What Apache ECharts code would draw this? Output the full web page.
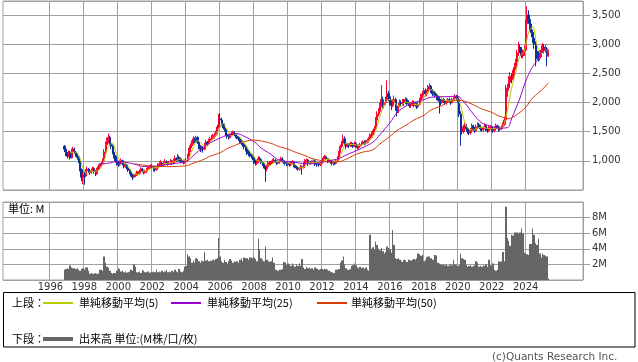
<!DOCTYPE html>
<html><head><meta charset="utf-8">
<script src="https://cdn.jsdelivr.net/npm/echarts@6/dist/echarts.min.js"></script>
<style>html,body{margin:0;padding:0;background:#fff}#c{width:638px;height:362px}</style>
</head><body><div id="c"></div><script>
// axis range (months) and first data month
const axisStart = [1993, 4];
const axisMonths = 410;
const dataStart = '1996-11';
const yearTicks = ['1996','1998','2000','2002','2004','2006','2008','2010','2012','2014','2016','2018','2020','2022','2024'];

// monthly candles [open, close, low, high]
const candles = [
 // 1996 Nov-Dec
 [1250,1200,1150,1270],[1200,1120,1080,1230],
 // 1997
 [1120,1080,1040,1150],[1080,1150,1060,1180],[1150,1050,1020,1170],[1050,1180,1040,1210],[1180,1200,1150,1240],[1200,1150,1120,1230],
 [1150,1100,1070,1170],[1100,1060,1020,1130],[1060,1000,960,1080],[1000,850,820,1020],[850,720,650,870],[720,760,600,800],
 // 1998
 [760,740,590,810],[740,830,720,860],[830,860,800,900],[860,820,790,880],[820,800,760,840],[800,830,780,870],
 [830,870,810,900],[870,820,780,890],[820,780,740,840],[780,850,760,880],[850,900,830,930],[900,920,870,960],
 // 1999
 [920,950,890,980],[950,1000,930,1040],[1000,1150,980,1200],[1150,1280,1120,1330],[1280,1350,1240,1400],[1350,1400,1300,1470],
 [1400,1300,1260,1430],[1300,1250,1200,1340],[1250,1150,1110,1280],[1150,1080,1040,1180],[1080,1000,970,1100],[1000,960,920,1030],
 // 2000
 [960,940,900,1000],[940,980,910,1010],[980,1000,950,1040],[1000,950,920,1020],[950,900,870,970],[900,930,880,960],
 [930,880,850,950],[880,840,810,900],[840,800,770,860],[800,760,730,820],[760,720,670,780],[720,740,700,770],
 // 2001
 [740,760,720,790],[760,800,740,830],[800,780,750,820],[780,820,760,850],[820,860,800,890],[860,830,800,880],
 [830,800,770,850],[800,820,780,850],[820,850,790,880],[850,870,830,900],[870,890,850,920],[890,910,860,940],
 // 2002
 [910,890,860,940],[890,860,820,910],[860,850,810,890],[850,880,830,910],[880,920,860,960],[920,950,900,990],
 [950,960,920,1010],[960,930,900,980],[930,950,910,990],[950,980,930,1030],[980,960,930,1010],[960,950,920,990],
 // 2003
 [950,970,930,1000],[970,990,950,1030],[990,960,930,1010],[960,1000,940,1040],[1000,1040,980,1090],[1040,1010,980,1060],
 [1010,1060,990,1120],[1060,1040,1000,1090],[1040,990,960,1060],[990,1000,960,1040],[1000,970,940,1020],[970,990,950,1020],
 // 2004
 [990,1010,960,1050],[1010,1080,990,1120],[1080,1180,1060,1220],[1180,1260,1150,1300],[1260,1300,1220,1350],[1300,1380,1280,1420],
 [1380,1340,1300,1400],[1340,1400,1310,1430],[1400,1320,1290,1420],[1320,1250,1200,1340],[1250,1200,1150,1270],[1200,1220,1170,1260],
 // 2005
 [1220,1200,1140,1250],[1200,1280,1180,1310],[1280,1320,1250,1360],[1320,1290,1250,1340],[1290,1350,1270,1380],[1350,1380,1320,1410],
 [1380,1400,1350,1440],[1400,1420,1370,1460],[1420,1440,1380,1480],[1440,1480,1410,1520],[1480,1580,1450,1620],[1580,1720,1550,1800],
 // 2006
 [1720,1700,1620,1820],[1700,1640,1600,1740],[1640,1600,1560,1680],[1600,1540,1500,1640],[1540,1460,1420,1560],[1460,1420,1380,1480],
 [1420,1400,1370,1450],[1400,1440,1380,1470],[1440,1470,1420,1500],[1470,1490,1440,1520],[1490,1450,1420,1510],[1450,1420,1390,1470],
 // 2007
 [1420,1400,1370,1450],[1400,1380,1340,1420],[1380,1350,1300,1400],[1350,1300,1270,1370],[1300,1280,1240,1320],[1280,1240,1200,1300],
 [1240,1200,1160,1270],[1200,1150,1100,1220],[1150,1120,1080,1180],[1120,1100,1060,1160],[1100,1080,1040,1130],[1080,1050,1010,1100],
 // 2008
 [1050,1000,950,1070],[1000,960,920,1020],[960,980,930,1010],[980,1040,960,1080],[1040,1020,990,1070],[1020,970,940,1040],
 [970,950,910,990],[950,900,870,970],[900,860,640,920],[860,900,820,930],[900,970,880,1000],[970,950,920,990],
 // 2009
 [950,980,920,1000],[980,1000,950,1030],[1000,1010,960,1050],[1010,990,960,1030],[990,960,930,1010],[960,980,940,1010],
 [980,1000,950,1030],[1000,1040,980,1070],[1040,1000,970,1060],[1000,980,950,1020],[980,960,920,1000],[960,950,910,980],
 // 2010
 [940,950,910,980],[950,930,900,970],[930,960,910,990],[960,980,940,1010],[980,920,890,990],[920,900,870,940],
 [900,880,850,920],[880,860,830,900],[860,870,830,900],[870,900,850,930],[900,880,760,920],[880,950,870,980],
 // 2011
 [950,1000,940,1030],[1000,1010,970,1040],[1010,960,910,1030],[960,980,940,1000],[980,970,940,1000],[970,990,950,1010],
 [990,1000,960,1030],[1000,950,910,1010],[950,940,900,970],[940,960,920,980],[960,930,900,970],[930,960,910,980],
 // 2012
 [960,1000,950,1020],[1000,1050,990,1080],[1050,1070,1030,1100],[1070,1040,1010,1090],[1040,1000,960,1050],[1000,1010,970,1040],
 [1010,980,950,1030],[980,960,920,1000],[960,970,920,1000],[970,960,930,990],[960,1000,940,1020],[1000,1060,990,1080],
 // 2013
 [1060,1150,1040,1170],[1150,1250,1130,1280],[1250,1300,1220,1340],[1300,1380,1280,1450],[1380,1300,1250,1420],[1300,1250,1200,1330],
 [1250,1280,1230,1310],[1280,1260,1220,1300],[1260,1300,1240,1330],[1300,1280,1240,1320],[1280,1250,1220,1300],[1250,1300,1240,1330],
 // 2014
 [1300,1260,1220,1320],[1260,1230,1190,1280],[1230,1250,1200,1280],[1250,1280,1230,1310],[1280,1300,1250,1330],[1300,1320,1270,1350],
 [1320,1300,1270,1350],[1300,1330,1280,1360],[1330,1350,1300,1380],[1350,1380,1310,1410],[1380,1420,1350,1470],[1420,1450,1390,1500],
 // 2015
 [1450,1480,1400,1530],[1480,1550,1450,1600],[1550,1700,1530,1750],[1700,1800,1670,1850],[1800,1850,1760,1900],[1850,1950,1820,2000],
 [1950,2050,1920,2300],[2050,1950,1880,2100],[1950,2000,1900,2060],[2000,2050,1960,2100],[2050,2150,2000,2380],[2150,2100,2020,2200],
 // 2016
 [2100,2000,1950,2150],[2000,1950,1870,2050],[1950,2000,1920,2060],[2000,2050,1960,2120],[2050,1900,1860,2080],[1900,1850,1760,1950],
 [1850,1950,1820,1990],[1950,2000,1920,2050],[2000,1980,1930,2040],[1980,2020,1950,2060],[2020,2000,1940,2060],[2000,2050,1970,2090],
 // 2017
 [2050,2000,1960,2080],[2000,1980,1940,2040],[1980,1950,1910,2010],[1950,1970,1910,2000],[1970,2000,1940,2040],[2000,1950,1920,2030],
 [1950,1980,1920,2010],[1980,1930,1890,2000],[1930,1970,1900,2000],[1970,2050,1950,2080],[2050,2100,2020,2150],[2100,2150,2070,2200],
 // 2018
 [2150,2200,2120,2250],[2200,2150,2100,2240],[2150,2180,2110,2220],[2180,2250,2160,2300],[2250,2280,2220,2330],[2280,2200,2160,2300],
 [2200,2150,2110,2230],[2150,2180,2120,2210],[2180,2120,2080,2200],[2120,2100,2040,2160],[2100,2080,2030,2130],[2080,2020,1810,2100],
 // 2019
 [2020,2000,1950,2060],[2000,2050,1980,2080],[2050,2030,1990,2080],[2030,2000,1960,2060],[2000,2020,1960,2050],[2020,2050,1990,2080],
 [2050,2030,1990,2080],[2030,2000,1960,2050],[2000,2050,1980,2080],[2050,2080,2020,2110],[2080,2100,2050,2140],[2100,2080,2040,2130],
 // 2020
 [2080,2050,2000,2120],[2050,1800,1750,2080],[1800,1550,1260,1850],[1550,1500,1450,1600],[1500,1580,1470,1620],[1580,1600,1540,1650],
 [1600,1550,1500,1630],[1550,1500,1460,1580],[1500,1480,1440,1540],[1480,1520,1450,1560],[1520,1600,1500,1640],[1600,1550,1510,1620],
 // 2021
 [1550,1520,1480,1580],[1520,1580,1500,1620],[1580,1620,1550,1660],[1620,1600,1560,1650],[1600,1550,1510,1620],[1550,1530,1500,1580],
 [1530,1560,1500,1590],[1560,1600,1540,1640],[1600,1550,1510,1630],[1550,1520,1480,1570],[1520,1560,1490,1600],[1560,1580,1530,1610],
 // 2022
 [1580,1550,1500,1600],[1550,1520,1480,1570],[1520,1560,1490,1590],[1560,1600,1530,1640],[1600,1580,1540,1620],[1580,1540,1500,1600],
 [1540,1560,1510,1590],[1560,1580,1530,1610],[1580,1620,1550,1660],[1620,1700,1600,1760],[1700,2150,1680,2300],[2150,2250,2100,2320],
 // 2023
 [2250,2350,2200,2450],[2350,2450,2300,2520],[2450,2400,2330,2500],[2400,2500,2380,2560],[2500,2600,2460,2680],[2600,2700,2560,2750],
 [2700,2850,2650,2900],[2850,2950,2800,3040],[2950,2900,2850,3000],[2900,2800,2760,2950],[2800,2850,2760,2900],[2850,2900,2800,2980],
 // 2024
 [2900,3350,2880,3420],[3350,3500,3300,3650],[3500,3420,3350,3580],[3420,3300,3220,3480],[3300,3200,3120,3350],[3200,3100,3020,3250],
 [3100,3000,2920,3150],[3000,2880,2620,3050],[2880,2800,2740,2950],[2800,2760,2700,2880],[2760,2820,2720,2900],[2820,2900,2780,2980],
 // 2025 Jan-May
 [2900,2950,2850,3020],[2950,2900,2840,3000],[2900,2920,2860,2990],[2920,2800,2620,2950],[2800,2870,2780,2900]
];

// monthly volume (M)
const volumes = [
 1.3,1.4,
 1.5,1.4,1.85,1.6,1.5,1.5,1.4,1.5,1.3,1.2,1.4,1.5,
 1.3,1.6,1.6,1.2,0.8,0.9,0.8,0.8,0.9,0.8,0.8,1.3,
 1.3,1.2,3.0,2.2,1.7,1.6,1.2,0.9,0.8,0.9,0.9,1.2,
 1.5,1.4,1.1,1.2,1.0,1.1,0.9,1.0,1.1,1.3,1.2,2.0,
 1.7,1.0,1.0,1.1,0.9,1.3,1.2,1.0,1.0,1.1,0.9,1.0,
 1.0,1.1,1.0,1.3,1.0,1.1,1.0,1.2,1.0,1.1,1.3,1.0,
 1.1,1.0,1.2,1.0,1.3,1.1,1.0,1.4,1.1,1.0,1.2,1.7,
 1.8,3.3,3.0,2.8,2.2,2.5,2.2,2.8,2.7,2.4,2.2,2.5,
 2.4,3.6,2.5,2.6,2.4,2.5,2.4,2.6,2.5,2.7,2.8,5.4,
 3.0,2.4,2.2,2.6,2.3,2.1,2.4,2.7,2.5,2.2,2.4,2.3,
 2.4,2.2,2.6,2.8,2.4,2.9,2.8,2.8,2.6,2.9,2.9,2.8,
 2.9,2.7,2.4,5.3,3.9,2.8,2.6,2.4,4.3,2.6,2.4,2.3,
 2.4,2.9,2.2,1.3,1.3,1.2,1.3,1.3,1.4,2.3,2.2,1.9,
 2.1,2.0,1.8,2.1,1.9,1.7,2.0,1.8,2.1,1.8,2.7,1.6,
 1.4,1.7,1.5,1.6,1.4,1.5,1.3,1.6,1.5,1.4,1.3,1.4,
 1.4,1.3,1.4,1.4,1.3,1.2,1.1,1.0,0.9,0.9,1.3,1.3,
 1.4,2.2,2.5,3.0,2.0,1.5,1.3,1.3,1.4,1.8,1.9,2.1,
 1.9,1.6,1.5,1.7,1.5,1.6,1.4,1.6,1.3,1.2,5.8,4.0,
 4.2,3.9,4.9,4.5,4.0,3.8,4.1,3.7,3.4,3.6,4.3,4.1,
 3.9,3.5,6.4,4.5,2.8,2.7,2.8,2.6,2.4,2.3,2.6,2.5,
 2.3,2.6,2.6,2.5,2.6,2.7,2.6,2.8,3.4,3.3,3.1,3.2,
 2.4,2.6,2.9,3.0,3.0,2.8,2.6,2.6,3.2,3.1,2.2,2.1,
 2.0,1.9,2.0,1.9,2.0,1.8,1.9,2.0,1.9,2.6,2.0,1.9,
 1.8,2.0,3.4,2.8,2.7,2.6,1.9,1.7,1.8,1.9,1.7,1.8,
 1.9,2.4,2.2,1.7,1.8,1.7,1.9,1.8,2.0,1.7,2.6,1.9,
 1.8,2.1,1.3,1.2,1.3,2.4,2.3,2.4,3.6,2.4,9.4,5.4,
 5.0,4.4,5.8,5.7,6.1,6.1,6.1,6.0,6.1,6.6,6.0,3.5,
 3.4,3.3,3.2,4.6,4.6,6.6,5.8,4.7,4.5,5.3,3.4,2.9,
 3.4,3.2,3.1,3.0,0.2
];

// moving averages
const ma5 = [
 ['1997-03',1140],['1997-06',1150],['1997-09',1100],['1997-12',880],['1998-03',780],['1998-06',820],['1998-09',820],['1998-12',860],
 ['1999-03',1000],['1999-06',1250],['1999-09',1300],['1999-12',1100],['2000-03',980],['2000-06',950],['2000-09',870],['2000-12',770],
 ['2001-03',770],['2001-06',820],['2001-09',830],['2001-12',870],['2002-03',880],['2002-06',890],['2002-09',950],['2002-12',960],
 ['2003-03',970],['2003-06',1000],['2003-09',1030],['2003-12',1000],['2004-03',1050],['2004-06',1230],['2004-09',1350],['2004-12',1290],
 ['2005-03',1240],['2005-06',1320],['2005-09',1400],['2005-12',1530],['2006-03',1640],['2006-06',1530],['2006-09',1430],['2006-12',1460],
 ['2007-03',1400],['2007-06',1310],['2007-09',1200],['2007-12',1100],['2008-03',1010],['2008-06',990],['2008-09',950],['2008-12',920],
 ['2009-03',970],['2009-06',990],['2009-09',1000],['2009-12',980],['2010-03',950],['2010-06',940],['2010-09',880],['2010-12',890],
 ['2011-03',960],['2011-06',980],['2011-09',970],['2011-12',960],['2012-03',1010],['2012-06',1030],['2012-09',990],['2012-12',990],
 ['2013-03',1150],['2013-06',1300],['2013-09',1280],['2013-12',1280],['2014-03',1260],['2014-06',1280],['2014-09',1320],['2014-12',1390],
 ['2015-03',1520],['2015-06',1770],['2015-09',1960],['2015-12',2050],['2016-03',2040],['2016-06',1950],['2016-09',1940],['2016-12',2010],
 ['2017-03',1990],['2017-06',1970],['2017-09',1960],['2017-12',2040],['2018-03',2160],['2018-06',2220],['2018-09',2180],['2018-12',2100],
 ['2019-03',2040],['2019-06',2030],['2019-09',2030],['2019-12',2070],['2020-03',1950],['2020-06',1650],['2020-09',1540],['2020-12',1530],
 ['2021-03',1560],['2021-06',1580],['2021-09',1560],['2021-12',1550],['2022-03',1550],['2022-06',1560],['2022-09',1580],['2022-12',1860],
 ['2023-03',2240],['2023-06',2530],['2023-09',2800],['2023-12',2880],['2024-03',3200],['2024-06',3300],['2024-09',2980],['2024-12',2830],
 ['2025-03',2900],['2025-05',2880]
];
const ma25 = [
 ['1998-11',940],['1999-06',960],['2000-01',990],['2000-06',975],['2001-01',940],['2001-06',905],['2002-01',905],['2002-06',915],
 ['2003-01',940],['2003-06',960],['2004-01',990],['2004-06',1090],['2005-01',1230],['2005-06',1310],['2006-01',1390],['2006-06',1440],
 ['2007-01',1465],['2007-06',1420],['2008-01',1330],['2008-06',1220],['2009-01',1110],['2009-06',1020],['2010-01',985],['2010-06',975],
 ['2011-01',950],['2011-06',950],['2012-01',975],['2012-06',1000],['2013-01',1040],['2013-06',1100],['2014-01',1170],['2014-06',1230],
 ['2015-01',1320],['2015-06',1450],['2016-01',1650],['2016-06',1820],['2017-01',1950],['2017-06',2000],['2018-01',2050],['2018-06',2090],
 ['2019-01',2100],['2019-06',2100],['2019-12',2110],['2020-06',1990],['2020-12',1800],['2021-06',1650],['2021-12',1600],['2022-06',1560],
 ['2022-12',1570],['2023-03',1720],['2023-06',1900],['2023-09',2080],['2023-12',2300],['2024-03',2480],['2024-06',2620],['2024-09',2720],
 ['2024-12',2860],['2025-05',2910]
];
const ma50 = [
 ['2001-01',950],['2001-06',930],['2002-01',910],['2002-06',905],['2003-01',900],['2003-06',905],['2004-01',915],['2004-06',960],
 ['2005-01',1020],['2005-06',1080],['2006-01',1140],['2006-06',1210],['2007-01',1280],['2007-06',1330],['2008-01',1355],['2008-06',1340],
 ['2009-01',1300],['2009-06',1250],['2010-01',1200],['2010-06',1150],['2011-01',1090],['2011-06',1040],['2012-01',1000],['2012-06',980],
 ['2013-01',985],['2013-06',1030],['2014-01',1110],['2014-06',1150],['2015-01',1190],['2015-06',1290],['2016-01',1420],['2016-06',1520],
 ['2017-01',1620],['2017-06',1700],['2018-01',1780],['2018-06',1870],['2019-01',1940],['2019-06',2000],['2020-01',2040],['2020-06',2020],
 ['2021-01',1950],['2021-06',1890],['2022-01',1830],['2022-06',1770],['2023-01',1725],['2023-06',1780],['2024-01',1920],['2024-06',2080],
 ['2025-01',2230],['2025-05',2340]
];

// build month categories
const cats = [];
{ let y = axisStart[0], m = axisStart[1];
  for (let i = 0; i < axisMonths; i++) { cats.push(y + '-' + String(m).padStart(2,'0')); m++; if (m > 12) { m = 1; y++; } } }
const off = cats.indexOf(dataStart);
const candleData = cats.map((c,i) => (i >= off && i - off < candles.length) ? candles[i-off] : ['-','-','-','-']);
const volData = volumes.map((v,i) => [off + i, v]);
const isTick = (idx, v) => v.endsWith('-01') && yearTicks.includes(v.slice(0,4));

const GRID = '#a0a0a0';
const LBL = {color:'#333', fontSize:10, fontFamily:'DejaVu Sans'};
const CJK = '"Noto Sans CJK JP"';
const C5 = '#b8cc00', C25 = '#9a00cc', C50 = '#d83c00', CV = '#666666';

// volume columns snapped to whole pixels so neighbouring months join without seams
function volumeBar(params, api) {
  const top = api.coord([api.value(0), api.value(1)]);
  const base = api.coord([api.value(0), 0]);
  const w = api.size([1, 0])[0];
  const x0 = Math.round(top[0] - w / 2), x1 = Math.round(top[0] + w / 2);
  return {type:'rect', shape:{x:x0, y:top[1], width:Math.max(1, x1 - x0), height:base[1] - top[1]}, style:{fill:CV}};
}

const chart = echarts.init(document.getElementById('c'), null, {renderer:'canvas'});
chart.setOption({
  animation:false,
  grid:[
    {left:3, top:1, width:580, height:189, show:true, borderColor:GRID, borderWidth:1},
    {left:3, top:202, width:580, height:78, show:true, borderColor:GRID, borderWidth:1}
  ],
  xAxis:[
    {type:'category', gridIndex:0, data:cats, boundaryGap:true, axisLine:{show:false}, axisTick:{show:false},
     axisLabel:{show:false}, splitLine:{show:true, interval:isTick, lineStyle:{color:GRID, width:1}}},
    {type:'category', gridIndex:1, data:cats, boundaryGap:true, axisLine:{show:false}, axisTick:{show:false},
     axisLabel:Object.assign({show:true, interval:isTick, formatter:v=>v.slice(0,4), margin:2}, LBL),
     splitLine:{show:true, interval:isTick, lineStyle:{color:GRID, width:1}}}
  ],
  yAxis:[
    {type:'value', gridIndex:0, position:'right', min:500, max:3740, interval:500,
     axisLine:{show:false}, axisTick:{show:true, length:7, lineStyle:{color:GRID}},
     splitLine:{show:true, lineStyle:{color:GRID}},
     axisLabel:Object.assign({showMinLabel:false, showMaxLabel:false, margin:9, formatter:v=>v.toLocaleString('en-US')}, LBL)},
    {type:'value', gridIndex:1, position:'right', min:0, max:10, interval:2,
     axisLine:{show:false}, axisTick:{show:true, length:7, lineStyle:{color:GRID}},
     splitLine:{show:true, lineStyle:{color:GRID}},
     axisLabel:Object.assign({showMinLabel:false, showMaxLabel:false, margin:9, padding:[0,0,4,0], formatter:v=>v+'M'}, LBL)}
  ],
  series:[
    {type:'candlestick', xAxisIndex:0, yAxisIndex:0, data:candleData, barWidth:1.6,
     itemStyle:{color:'#ff0033', color0:'#0a2f99', borderColor:'#ff0033', borderColor0:'#0a2f99', borderWidth:1}, z:2},
    {type:'line', xAxisIndex:0, yAxisIndex:0, data:ma5, showSymbol:false, smooth:0.3, lineStyle:{color:C5, width:1}, z:3},
    {type:'line', xAxisIndex:0, yAxisIndex:0, data:ma25, showSymbol:false, smooth:0.4, lineStyle:{color:C25, width:1}, z:3},
    {type:'line', xAxisIndex:0, yAxisIndex:0, data:ma50, showSymbol:false, smooth:0.4, lineStyle:{color:C50, width:1}, z:3},
    {type:'custom', xAxisIndex:1, yAxisIndex:1, data:volData, encode:{x:0, y:1}, renderItem:volumeBar, clip:true}
  ],
  graphic:[
    {type:'text', x:8, y:209, style:{text:'単位: M', fill:'#000', font:'11px '+CJK, verticalAlign:'middle'}},
    {type:'rect', z:1, shape:{x:3.5, y:292.5, width:631.5, height:54.5}, style:{fill:'#fff', stroke:'#000', lineWidth:1}},
    {type:'text', z:2, x:12, y:303, style:{text:'上段：', fill:'#000', font:'11px '+CJK, verticalAlign:'middle'}},
    {type:'rect', z:2, shape:{x:43, y:302, width:30, height:2}, style:{fill:C5, stroke:null}},
    {type:'text', z:2, x:79, y:303, style:{text:'単純移動平均(5)', fill:'#000', font:'11px '+CJK, verticalAlign:'middle'}},
    {type:'rect', z:2, shape:{x:171, y:302, width:30, height:2}, style:{fill:C25, stroke:null}},
    {type:'text', z:2, x:207, y:303, style:{text:'単純移動平均(25)', fill:'#000', font:'11px '+CJK, verticalAlign:'middle'}},
    {type:'rect', z:2, shape:{x:317, y:302, width:30, height:2}, style:{fill:C50, stroke:null}},
    {type:'text', z:2, x:351, y:303, style:{text:'単純移動平均(50)', fill:'#000', font:'11px '+CJK, verticalAlign:'middle'}},
    {type:'text', z:2, x:12, y:339, style:{text:'下段：', fill:'#000', font:'11px '+CJK, verticalAlign:'middle'}},
    {type:'rect', z:2, shape:{x:43, y:337, width:30, height:4}, style:{fill:CV, stroke:null}},
    {type:'text', z:2, x:79, y:339, style:{text:'出来高 単位:(M株/口/枚)', fill:'#000', font:'11px '+CJK, verticalAlign:'middle'}},
    {type:'text', x:492, y:357, style:{text:'(c)Quants Research Inc.', fill:'#555', font:'10.5px "DejaVu Sans"', verticalAlign:'middle'}}
  ]
});
</script></body></html>
